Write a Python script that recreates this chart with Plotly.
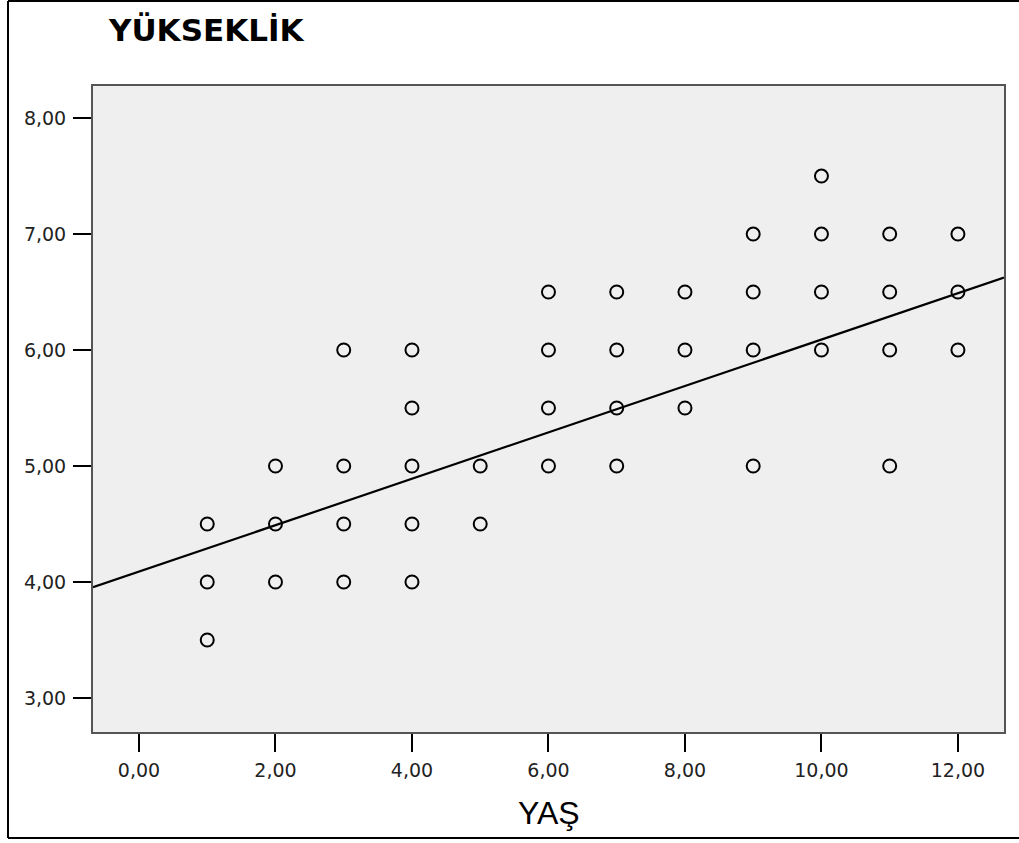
import numpy as np
import plotly.graph_objects as go

# Observations: age (YAŞ) and height (YÜKSEKLİK)
yas = [1, 1, 1,
       2, 2, 2,
       3, 3, 3, 3,
       4, 4, 4, 4, 4,
       5, 5,
       6, 6, 6, 6,
       7, 7, 7, 7,
       8, 8, 8,
       9, 9, 9, 9,
       10, 10, 10, 10,
       11, 11, 11, 11,
       12, 12, 12]
yukseklik = [4.5, 4.0, 3.5,
             5.0, 4.5, 4.0,
             6.0, 5.0, 4.5, 4.0,
             6.0, 5.5, 5.0, 4.5, 4.0,
             5.0, 4.5,
             6.5, 6.0, 5.5, 5.0,
             6.5, 6.0, 5.5, 5.0,
             6.5, 6.0, 5.5,
             7.0, 6.5, 6.0, 5.0,
             7.5, 7.0, 6.5, 6.0,
             7.0, 6.5, 6.0, 5.0,
             7.0, 6.5, 6.0]

# Linear fit line (intercept, slope)
fit_intercept = 4.09
fit_slope = 0.20

x_ticks = [0, 2, 4, 6, 8, 10, 12]
y_ticks = [3, 4, 5, 6, 7, 8]
x_range = [-0.674, 12.675]
y_range = [2.707, 8.276]

fit_x = np.array(x_range)
fit_y = fit_intercept + fit_slope * fit_x

fig = go.Figure()
fig.add_trace(go.Scatter(
    x=fit_x, y=fit_y, mode="lines",
    line=dict(color="black", width=2.2),
    hoverinfo="skip", showlegend=False,
))
fig.add_trace(go.Scatter(
    x=yas, y=yukseklik, mode="markers",
    marker=dict(symbol="circle-open", size=13, color="black",
                line=dict(color="black", width=2)),
    showlegend=False,
))

axis_common = dict(
    showgrid=False, zeroline=False,
    showline=True, linecolor="#555555", linewidth=2, mirror=True,
    ticks="outside", ticklen=18, tickwidth=2, tickcolor="black",
    tickformat=".2f",
    tickfont=dict(family="DejaVu Sans, Verdana, sans-serif", size=19, color="#222222"),
)

fig.update_xaxes(range=x_range, tickvals=x_ticks, ticklabelstandoff=2, **axis_common)
fig.update_yaxes(range=y_range, tickvals=y_ticks, ticklabelstandoff=3, **axis_common)

W, H = 1019, 843
L, R, T, B = 93, 15, 86, 111
pw, ph = W - L - R, H - T - B


def px_x(px):
    return (px - L) / pw


def px_y(py):
    return (H - B - py) / ph


# Outer frame around the whole chart
frame = dict(type="line", xref="paper", yref="paper",
             line=dict(color="black", width=2))
shapes = [
    dict(frame, x0=px_x(8), x1=px_x(8), y0=px_y(1), y1=px_y(838)),
    dict(frame, x0=px_x(8), x1=px_x(1025), y0=px_y(1), y1=px_y(1)),
    dict(frame, x0=px_x(8), x1=px_x(1025), y0=px_y(838), y1=px_y(838)),
]

annotations = [
    dict(text="<b>YÜKSEKLİK</b>", xref="paper", yref="paper",
         x=px_x(106), y=px_y(30), xanchor="left", yanchor="middle",
         showarrow=False,
         font=dict(family="DejaVu Sans, Verdana, sans-serif", size=31, color="black")),
    dict(text="YAŞ", xref="paper", yref="paper",
         x=px_x(549), y=px_y(813), xanchor="center", yanchor="middle",
         showarrow=False,
         font=dict(family="Liberation Sans, Arial, sans-serif", size=32, color="black")),
]

fig.update_layout(
    width=W, height=H,
    margin=dict(l=L, r=R, t=T, b=B),
    paper_bgcolor="white",
    plot_bgcolor="#EFEFEF",
    separators=", ",
    shapes=shapes,
    annotations=annotations,
)

fig.write_html("out.html")
